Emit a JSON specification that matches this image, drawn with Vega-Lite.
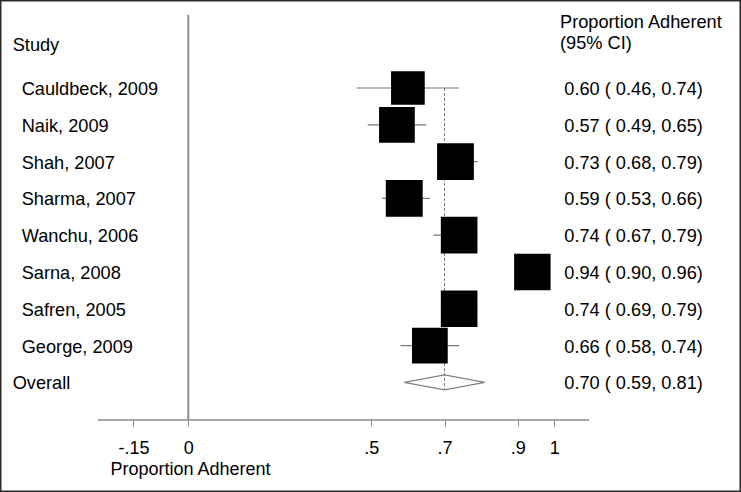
{
  "$schema": "https://vega.github.io/schema/vega-lite/v6.json",
  "width": 741,
  "height": 492,
  "padding": 0,
  "autosize": {"type": "none"},
  "background": "white",
  "config": {
    "view": {"stroke": "#2a2a2a", "strokeWidth": 3},
    "font": "Liberation Sans",
    "text": {"font": "Liberation Sans", "fontSize": 18.2, "color": "#000000"}
  },
  "datasets": {
    "studies": [
      {"study": "Cauldbeck, 2009", "row": 1, "est": 0.60, "lo": 0.46, "hi": 0.74, "weight": 11.0, "ci": "0.60 ( 0.46, 0.74)"},
      {"study": "Naik, 2009", "row": 2, "est": 0.57, "lo": 0.49, "hi": 0.65, "weight": 12.4, "ci": "0.57 ( 0.49, 0.65)"},
      {"study": "Shah, 2007", "row": 3, "est": 0.73, "lo": 0.68, "hi": 0.79, "weight": 13.1, "ci": "0.73 ( 0.68, 0.79)"},
      {"study": "Sharma, 2007", "row": 4, "est": 0.59, "lo": 0.53, "hi": 0.66, "weight": 13.2, "ci": "0.59 ( 0.53, 0.66)"},
      {"study": "Wanchu, 2006", "row": 5, "est": 0.74, "lo": 0.67, "hi": 0.79, "weight": 13.0, "ci": "0.74 ( 0.67, 0.79)"},
      {"study": "Sarna, 2008", "row": 6, "est": 0.94, "lo": 0.90, "hi": 0.96, "weight": 12.9, "ci": "0.94 ( 0.90, 0.96)"},
      {"study": "Safren, 2005", "row": 7, "est": 0.74, "lo": 0.69, "hi": 0.79, "weight": 13.0, "ci": "0.74 ( 0.69, 0.79)"},
      {"study": "George, 2009", "row": 8, "est": 0.66, "lo": 0.58, "hi": 0.74, "weight": 12.4, "ci": "0.66 ( 0.58, 0.74)"}
    ],
    "overall": [
      {"study": "Overall", "row": 9, "est": 0.70, "lo": 0.59, "hi": 0.81, "ci": "0.70 ( 0.59, 0.81)"}
    ]
  },
  "data": {"values": [{}]},
  "layer": [
    {
      "mark": {"type": "rule", "color": "#8f8f8f", "strokeWidth": 2},
      "encoding": {
        "x": {
          "datum": 0, "type": "quantitative",
          "scale": {"domain": [-0.5145, 1.5101], "nice": false, "zero": false},
          "axis": {
            "orient": "bottom",
            "values": [-0.15, 0, 0.5, 0.7, 0.9, 1],
            "labelExpr": "replace(toString(datum.value), '0.', '.')",
            "domain": false, "grid": false,
            "ticks": true, "tickSize": 6, "tickColor": "#8a8a8a", "tickWidth": 1,
            "labelFont": "Liberation Sans", "labelFontSize": 18, "labelColor": "#000000",
            "labelPadding": 13, "labelFlush": false, "labelOverlap": false,
            "offset": -72,
            "title": "Proportion Adherent",
            "titleFont": "Liberation Sans", "titleFontSize": 18, "titleFontWeight": "normal", "titleColor": "#000000",
            "titleX": 190, "titleY": 54, "titleAlign": "center", "titleBaseline": "alphabetic"
          }
        },
        "y": {"datum": -0.984, "type": "quantitative", "scale": {"domain": [-1.392, 11.981], "reverse": true, "nice": false, "zero": false}, "axis": null},
        "y2": {"datum": 10.024}
      }
    },
    {
      "mark": {"type": "rule", "color": "#8a8a8a", "strokeWidth": 1.5},
      "encoding": {
        "x": {"datum": -0.247, "type": "quantitative"},
        "x2": {"datum": 1.095},
        "y": {"datum": 10.024, "type": "quantitative"}
      }
    },
    {
      "data": {"name": "overall"},
      "mark": {"type": "rule", "color": "#7a7a7a", "strokeWidth": 1, "strokeDash": [3, 2]},
      "encoding": {
        "x": {"field": "est", "type": "quantitative"},
        "y": {"datum": 1, "type": "quantitative"},
        "y2": {"datum": 9.204}
      }
    },
    {
      "data": {"name": "studies"},
      "mark": {"type": "rule", "color": "#7a7a7a", "strokeWidth": 1.2},
      "encoding": {
        "x": {"field": "lo", "type": "quantitative"},
        "x2": {"field": "hi"},
        "y": {"field": "row", "type": "quantitative"}
      }
    },
    {
      "data": {"name": "studies"},
      "mark": {"type": "square", "filled": true, "color": "#000000", "opacity": 1, "strokeWidth": 0},
      "encoding": {
        "x": {"field": "est", "type": "quantitative"},
        "y": {"field": "row", "type": "quantitative"},
        "size": {"field": "weight", "type": "quantitative", "scale": {"domain": [0, 13], "range": [0, 1340]}, "legend": null}
      }
    },
    {
      "data": {"name": "overall"},
      "transform": [
        {"fold": ["lo", "est", "hi"], "as": ["k", "v"]},
        {"calculate": "datum.k == 'est' ? 0.204 : 0", "as": "h"},
        {"calculate": "datum.row - datum.h", "as": "yt"},
        {"calculate": "datum.row + datum.h", "as": "yb"}
      ],
      "mark": {"type": "area", "orient": "vertical", "fill": "transparent", "stroke": "#808080", "strokeWidth": 1.2},
      "encoding": {
        "x": {"field": "v", "type": "quantitative"},
        "y": {"field": "yt", "type": "quantitative"},
        "y2": {"field": "yb"}
      }
    },
    {
      "data": {"name": "studies"},
      "mark": {"type": "text", "align": "left", "baseline": "middle", "dy": 2},
      "encoding": {
        "x": {"datum": -0.4552, "type": "quantitative"},
        "y": {"field": "row", "type": "quantitative"},
        "text": {"field": "study"}
      }
    },
    {
      "data": {"name": "studies"},
      "mark": {"type": "text", "align": "left", "baseline": "middle", "dy": 2},
      "encoding": {
        "x": {"datum": 1.0273, "type": "quantitative"},
        "y": {"field": "row", "type": "quantitative"},
        "text": {"field": "ci"}
      }
    },
    {
      "data": {"name": "overall"},
      "mark": {"type": "text", "align": "left", "baseline": "middle", "dy": 2},
      "encoding": {
        "x": {"datum": -0.4798, "type": "quantitative"},
        "y": {"field": "row", "type": "quantitative"},
        "text": {"field": "study"}
      }
    },
    {
      "data": {"name": "overall"},
      "mark": {"type": "text", "align": "left", "baseline": "middle", "dy": 2},
      "encoding": {
        "x": {"datum": 1.0273, "type": "quantitative"},
        "y": {"field": "row", "type": "quantitative"},
        "text": {"field": "ci"}
      }
    },
    {
      "mark": {"type": "text", "align": "left", "baseline": "middle", "dy": 2, "text": "Study"},
      "encoding": {
        "x": {"datum": -0.4798, "type": "quantitative"},
        "y": {"datum": -0.19, "type": "quantitative"}
      }
    },
    {
      "mark": {"type": "text", "align": "left", "baseline": "middle", "dy": 2, "text": "Proportion Adherent"},
      "encoding": {
        "x": {"datum": 1.0156, "type": "quantitative"},
        "y": {"datum": -0.82, "type": "quantitative"}
      }
    },
    {
      "mark": {"type": "text", "align": "left", "baseline": "middle", "dy": 2, "text": "(95% CI)"},
      "encoding": {
        "x": {"datum": 1.0156, "type": "quantitative"},
        "y": {"datum": -0.25, "type": "quantitative"}
      }
    }
  ]
}
